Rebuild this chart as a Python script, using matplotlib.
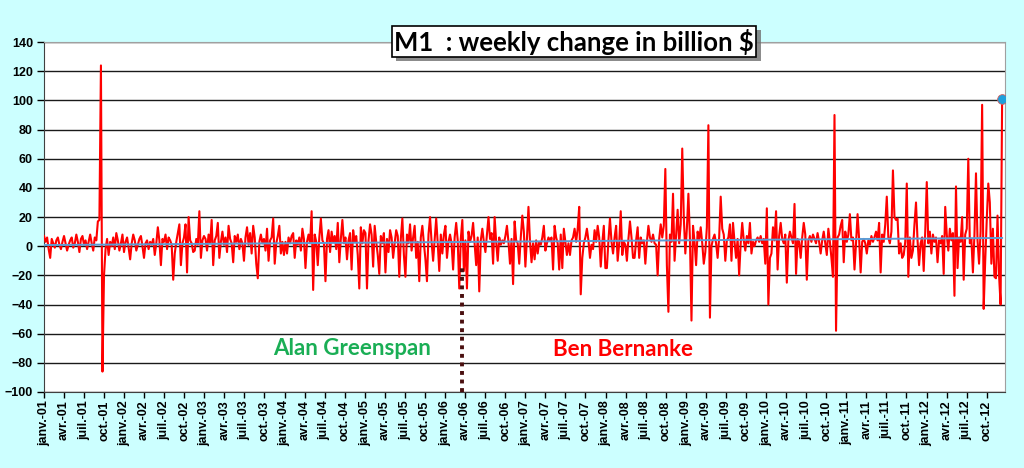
import matplotlib.pyplot as plt
import matplotlib.dates as mdates
import matplotlib.ticker as mticker
import matplotlib.patheffects as pe
import numpy as np
import pandas as pd

# weekly change of M1 in billion $, one list per calendar year (Mondays)
m1_2001 = [7, 3, 6, -2, -8, 5, 2, -1, 4, 6, 1, -2,
           3, 7, 2, -3, 1, 4, 6, -1, 2, 8, 3, -4,
           5, 7, 1, 4, -2, 3, 8, 2, -3, 6, 4, 17,
           18, 124, -86, -20, -2, 5, -6, 3, 0, 6, -2, 9, 4, -3, 2, 8, -4]
m1_2002 = [3, 6, -1, -9, 2, 8, 4, -3, 1, 5, 7, 0,
           -8, 2, 4, -2, 3, 1, 5, -6, 2, 13, 4, -13,
           5, 3, 8, -2, 6, 4, 1, -23, -5, 3, 9, 15,
           -13, 2, 6, 15, -18, 20, 4, 2, -4, -3, 5, 1, 24, -8, 4, 7]
m1_2003 = [5, -3, 8, 2, 18, -13, 4, 7, 16, -8, 3, 10,
           1, 6, -4, 14, 5, 2, -11, 7, 3, 8, -2, 5,
           2, -10, 6, 13, 1, 9, -5, 14, 6, -12, -22, 3,
           8, 2, 5, -3, 12, -10, 4, 6, 19, -12, 2, 7, 14, -5, 3, -6]
m1_2004 = [3, -5, 6, 2, 7, 9, -8, 4, 1, 6, -3, 12,
           5, -15, 3, 8, 2, 24, -30, 8, 3, -13, 6, 19,
           4, 2, -24, 5, 11, -4, 10, 3, 7, -2, 16, -11,
           5, 18, 2, 6, -9, 4, 9, -16, 11, 3, 7, -6, -29, 13, 2, 11]
m1_2005 = [9, -29, 4, 15, 8, -14, 14, 3, -6, -19, 7, 2,
           9, -18, 5, -4, 11, 6, -8, 2, 11, 7, -21, 5,
           19, -6, -21, 8, 2, 15, -3, 6, 14, -8, 3, -24,
           6, 14, 2, -9, -24, 8, 20, 3, -10, 5, 19, 2, -17, 8, -5, 8]
m1_2006 = [14, -8, 3, 8, 2, -16, 6, 16, 4, -29, 5, 18,
           -17, 4, -29, 10, 3, 7, 16, 2, -13, 6, -31, 4,
           12, 3, -4, 8, 20, 5, 9, -12, 20, 3, -10, 6,
           1, 4, 2, 7, 14, 3, -12, 5, -26, 17, 4, 2, -12, 6, 21, 10]
m1_2007 = [-14, 5, 27, 3, -11, 2, -9, 4, -5, 3, 1, 6,
           14, -3, 2, 6, 4, 6, -16, 14, 6, 2, -16, 8,
           -15, 12, 3, -6, 2, -6, 4, 6, 12, 3, 12, 27,
           -33, -8, 2, 6, 12, 4, -8, 1, -2, 11, 3, 14, 6, -14, 2, 14, -15]
m1_2008 = [-15, 4, 19, 3, -5, 6, 14, -10, 2, 24, -6, 3,
           1, -10, 5, 17, 6, -8, -8, 4, 13, -8, 6, 2,
           4, -12, 3, 14, 6, 3, 8, 2, 1, -20, 5, 15,
           6, 14, 53, -13, -45, 8, 3, 36, -10, 8, 25, 2, 15, 67, 20, -5]
m1_2009 = [12, 36, 5, -51, 14, 3, -13, 10, 4, 13, 2, -12,
           -4, 13, 83, -49, 0, 5, 8, 2, -8, 6, 34, 12,
           8, -10, 4, 6, 15, -10, 16, 3, -8, 5, -20, 2,
           16, 4, -3, 7, 2, 16, -5, 3, 0, 4, 6, 3, 7, 2, 5, -12]
m1_2010 = [26, -40, -8, -5, 13, 4, 24, -16, 7, 16, 5, 2,
           8, -25, 4, 10, 6, 2, 29, -19, 5, 3, -8, 6,
           16, 8, -23, 4, 7, 3, 8, 5, 2, 9, 3, -5,
           4, 10, 2, -6, 12, 3, -8, -21, 90, -58, 6, 8, 14, 18, -11, 10]
m1_2011 = [3, 8, 22, 4, 6, -16, 2, 22, 5, -18, 3, 5,
           2, -5, 4, 1, 7, 3, 6, 10, 4, 16, -18, 8,
           3, 15, 34, 6, 2, 10, 52, 20, 18, 19, -5, 2,
           -8, -6, 3, 43, -21, 6, -8, -3, 15, 30, 4, -13, 2, 6, -17, 10]
m1_2012 = [44, 2, 10, -5, 8, 3, 6, -11, 4, 2, 7, -19,
           27, 8, -3, 12, 4, 9, -34, 41, -15, 6, 3, 20,
           -23, 8, 12, 60, 2, 5, -18, 8, 50, 4, -12, 10,
           97, -43, -10, 18, 43, 30, -12, 12, -21, -22, 21, -20, -40, 101]

month_fr = {1: 'janv.', 4: 'avr.', 7: 'juil.', 10: 'oct.'}
greenspan_end = pd.Timestamp('2006-03-20')

m1 = np.array(m1_2001 + m1_2002 + m1_2003 + m1_2004 + m1_2005 + m1_2006 +
              m1_2007 + m1_2008 + m1_2009 + m1_2010 + m1_2011 + m1_2012, dtype=float)
weeks = pd.date_range('2001-01-01', periods=len(m1), freq='7D')

plt.rcParams['font.family'] = ['Liberation Sans', 'DejaVu Sans']

fig = plt.figure(figsize=(10.24, 4.68), dpi=100, facecolor='#ccffff')
ax = fig.add_axes([0.043, 0.1624, 0.938, 0.7476])
ax.set_facecolor('white')

ax.plot(weeks, m1, color='#ff0000', lw=1.5, zorder=3)

# linear trend (like the Excel trendline)
idx = np.arange(len(m1))
k, b = np.polyfit(idx, m1, 1)
ax.plot(weeks, k * idx + b, color='#5b9bd5', lw=1.4, zorder=4)

ax.plot(weeks[-1], m1[-1], 'o', ms=7, mfc='#1ea0dc', mec='#d06060', mew=0.6, zorder=5)

ax.plot([greenspan_end, greenspan_end], [-100, -15], color='#4a0f0f', lw=2.8,
        linestyle=(0, (1, 1.2)), zorder=4)

ax.set_ylim(-100, 140)
ax.set_yticks(np.arange(-100, 141, 20))
ax.set_xlim(pd.Timestamp('2001-01-01'), pd.Timestamp('2012-12-21'))
ax.grid(axis='y', color='#1a1a1a', lw=1.0)
ax.set_axisbelow(True)

ax.xaxis.set_major_locator(mdates.MonthLocator(bymonth=[1, 4, 7, 10]))
ax.xaxis.set_major_formatter(mticker.FuncFormatter(
    lambda v, pos: '%s-%s' % (month_fr[mdates.num2date(v).month], mdates.num2date(v).strftime('%y'))))
ax.tick_params(axis='x', labelsize=9, length=4, width=1, pad=2, rotation=90)
ax.tick_params(axis='y', labelsize=9, length=5, width=1, pad=3)
for lab in ax.get_xticklabels() + ax.get_yticklabels():
    lab.set_fontweight('bold')

for s in ['top', 'right']:
    ax.spines[s].set_color('#a0a0a0')
for s in ['left', 'bottom']:
    ax.spines[s].set_color('#404040')

ax.text(pd.Timestamp('2003-11-08'), -70, 'Alan Greenspan', color='#1aae55', fontsize=16,
        fontweight='bold', family=['Lato', 'DejaVu Sans'], va='center', ha='left')
ax.text(pd.Timestamp('2007-05-06'), -71, 'Ben Bernanke', color='#ff0000', fontsize=16,
        fontweight='bold', family=['Lato', 'DejaVu Sans'], va='center', ha='left')

title = fig.text(0.5605, 0.9113, 'M1  : weekly change in billion $', fontsize=18.5,
                 fontweight='bold', color='black', family=['Lato', 'DejaVu Sans'],
                 ha='center', va='center',
                 bbox=dict(boxstyle='square,pad=0.1', fc='white', ec='black', lw=1.2))
title.get_bbox_patch().set_path_effects([
    pe.SimplePatchShadow(offset=(3, -3), shadow_rgbFace='#707070', alpha=0.8),
    pe.Normal()])

fig.savefig('out.png', dpi=100, facecolor=fig.get_facecolor())
